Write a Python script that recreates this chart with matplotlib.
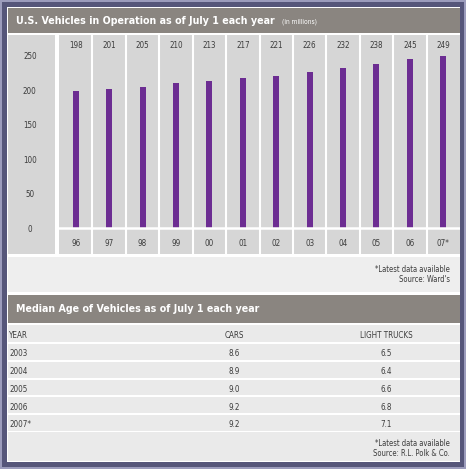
import matplotlib
matplotlib.use("Agg")
import matplotlib.pyplot as plt
from matplotlib.patches import Rectangle
import matplotlib.transforms as mtransforms

# Data
years = ['96', '97', '98', '99', '00', '01', '02', '03', '04', '05', '06', '07*']
vehicles = [198, 201, 205, 210, 213, 217, 221, 226, 232, 238, 245, 249]
y_ticks = [0, 50, 100, 150, 200, 250]

age_years = ['2003', '2004', '2005', '2006', '2007*']
cars = [8.6, 8.9, 9.0, 9.2, 9.2]
trucks = [6.5, 6.4, 6.6, 6.8, 7.1]
table_header = ['YEAR', 'CARS', 'LIGHT TRUCKS']

W, H = 466, 469
plt.rcParams['font.family'] = ['DejaVu Sans']
plt.rcParams['font.stretch'] = 'condensed'

band = '#8a8580'
col_gray = '#d6d6d6'
txt = '#3c3c3c'
purple = '#6c2d92'


def px(x0, y0, w, h):
    return [x0 / W, 1 - (y0 + h) / H, w / W, h / H]


fig = plt.figure(figsize=(W / 100, H / 100), dpi=100)
fig.patch.set_facecolor('#9c9cbc')

bg = fig.add_axes([0, 0, 1, 1])
bg.set_xlim(0, W)
bg.set_ylim(H, 0)
bg.axis('off')


def box(x, y, w, h, c):
    bg.add_patch(Rectangle((x, y), w, h, facecolor=c, edgecolor='none'))


box(2, 2, W - 4, H - 4, '#56567a')
box(7, 7, 453, 455, 'white')
box(8, 8, 452, 25, band)
box(8, 35, 47, 219, col_gray)
box(8, 257, 452, 35, '#eeeeee')
box(8, 295, 452, 28, band)
box(8, 325, 452, 136, '#eaeaea')

# titles
bg.text(16, 21, 'U.S. Vehicles in Operation as of July 1 each year', color='white',
        fontsize=7.7, fontweight='bold', va='center', ha='left')
bg.text(282, 22, '(in millions)', color='white', fontsize=4.8, va='center', ha='left')
bg.text(16, 309, 'Median Age of Vehicles as of July 1 each year', color='white',
        fontsize=7.7, fontweight='bold', va='center', ha='left')

# footnotes
bg.text(450, 269, '*Latest data available', color=txt, fontsize=5.5, ha='right', va='center')
bg.text(450, 280, "Source: Ward's", color=txt, fontsize=5.5, ha='right', va='center')
bg.text(450, 443, '*Latest data available', color=txt, fontsize=5.5, ha='right', va='center')
bg.text(450, 454, 'Source: R.L. Polk & Co.', color=txt, fontsize=5.5, ha='right', va='center')

# bar chart
ax = fig.add_axes(px(59, 35, 401, 219))
ax.set_facecolor(col_gray)
x = list(range(len(years)))
ax.bar(x, vehicles, width=0.18, color=purple, zorder=3)
ax.set_xlim(-0.5, len(years) - 0.5)
ax.set_ylim(-26 / 0.69, 193 / 0.69)
for k in range(len(years) - 1):
    ax.axvline(k + 0.5, color='white', lw=1.5, zorder=2)
ax.axhline(0, color='white', lw=1.8, zorder=4)
for s in ax.spines.values():
    s.set_visible(False)
ax.set_xticks([])
ax.set_yticks(y_ticks)
ax.set_yticklabels([str(t) for t in y_ticks], fontsize=5.8, color=txt)
ax.tick_params(axis='y', length=0, pad=21)
for lab in ax.get_yticklabels():
    lab.set_horizontalalignment('center')

top_tr = mtransforms.blended_transform_factory(ax.transData, ax.transAxes)
for xi, v, yr in zip(x, vehicles, years):
    ax.text(xi, 1 - 10 / 219, str(v), transform=top_tr, ha='center', va='center',
            fontsize=5.8, color=txt)
    ax.text(xi, 11 / 219, yr, transform=top_tr, ha='center', va='center',
            fontsize=5.8, color=txt)

# median age table
tb = fig.add_axes(px(8, 325, 452, 107))
tb.set_xlim(0, 452)
tb.set_ylim(len(age_years) + 1, 0)
tb.axis('off')
rows = [table_header] + [[y, f'{c:.1f}', f'{t:.1f}'] for y, c, t in zip(age_years, cars, trucks)]
for i, r in enumerate(rows):
    tb.text(1, i + 0.6, r[0], ha='left', va='center', fontsize=5.8, color=txt)
    tb.text(226, i + 0.6, r[1], ha='center', va='center', fontsize=5.8, color=txt)
    tb.text(378, i + 0.6, r[2], ha='center', va='center', fontsize=5.8, color=txt)
    tb.axhline(i + 1, color='white', lw=1.5)

fig.savefig('out.png', dpi=100, facecolor=fig.get_facecolor())
